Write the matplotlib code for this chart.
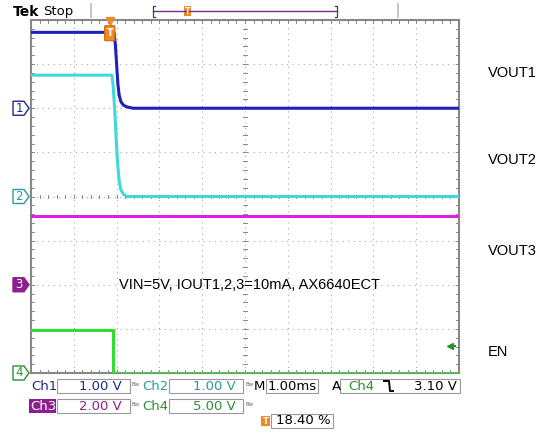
import matplotlib
matplotlib.use("Agg")
import matplotlib.pyplot as plt
from matplotlib.patches import Rectangle, Polygon, FancyBboxPatch

W, H = 542, 434

# scope settings
ch_scale = [1.0, 1.0, 2.0, 5.0]        # V/div
ch_offset = [2.0, 0.0, -2.0, -4.0]      # ground level, divisions from centre
t_per_div = 1.0                         # ms/div
trig_pct = 18.40
trig_level = 3.10

# traces (time ms, volts)
ch1_t = [-1.84, 0.10, 0.13, 0.16, 0.19, 0.22, 0.26, 0.32, 0.40, 0.55, 8.16]
ch1_v = [1.72, 1.72, 1.45, 1.0, 0.55, 0.3, 0.15, 0.07, 0.03, 0.0, 0.0]
ch2_t = [-1.84, 0.05, 0.08, 0.12, 0.15, 0.18, 0.22, 0.26, 0.32, 0.40, 8.16]
ch2_v = [2.75, 2.75, 2.5, 1.9, 1.3, 0.8, 0.35, 0.15, 0.05, 0.0, 0.0]
ch3_t = [-1.84, 8.16]
ch3_v = [3.1, 3.1]
ch4_t = [-1.84, 0.07, 0.07, 8.16]
ch4_v = [4.85, 4.85, 0.05, 0.05]

trace_colors = ["#2020c0", "#40d8d8", "#e020e0", "#30dd30"]
label_colors = ["#1c2a8a", "#2a9c9c", "#8e1e8e", "#2e8e2e"]
names = ["VOUT1", "VOUT2", "VOUT3", "EN"]

fig = plt.figure(figsize=(W / 100, H / 100), dpi=100)
fig.patch.set_facecolor("white")

x0, y0, x1, y1 = 31, 20, 459, 373
ax = fig.add_axes([x0 / W, 1 - y1 / H, (x1 - x0) / W, (y1 - y0) / H])
ax.set_xlim(-5, 5)
ax.set_ylim(-4, 4)
ax.set_xticks([])
ax.set_yticks([])
for s in ax.spines.values():
    s.set_color("#888888")
    s.set_linewidth(1.5)

# graticule
for i in range(-4, 5):
    ax.axvline(i, color="#aaaaaa", lw=0.8, ls=(0, (1, 4)))
for j in range(-3, 4):
    ax.axhline(j, color="#aaaaaa", lw=0.8, ls=(0, (1, 4)))
for k in range(-25, 26):
    x = k / 5
    ax.plot([x, x], [4, 3.93], color="#888888", lw=0.7)
    ax.plot([x, x], [-4, -3.93], color="#888888", lw=0.7)
    ax.plot([x, x], [-0.04, 0.04], color="#888888", lw=0.7)
for k in range(-20, 21):
    y = k / 5
    ax.plot([-5, -4.92], [y, y], color="#888888", lw=0.7)
    ax.plot([5, 4.92], [y, y], color="#888888", lw=0.7)
    ax.plot([-0.05, 0.05], [y, y], color="#888888", lw=0.7)


def to_x(t):
    # time relative to trigger -> screen divisions
    return [(tt + trig_pct / 10) / t_per_div - 5 for tt in t]


traces = [(ch1_t, ch1_v), (ch2_t, ch2_v), (ch3_t, ch3_v), (ch4_t, ch4_v)]
for n, (tt, vv) in enumerate(traces):
    ys = [ch_offset[n] + v / ch_scale[n] for v in vv]
    ax.plot(to_x(tt), ys, color=trace_colors[n], lw=2.2, solid_joinstyle="round", zorder=3)

# trigger marker at top
trig_x = trig_pct / 10 - 5
ax.plot([trig_x], [3.97], marker="v", color="#f08a20", ms=6, clip_on=False, zorder=5)
ax.add_patch(FancyBboxPatch((trig_x - 0.1, 3.55), 0.2, 0.3, boxstyle="round,pad=0.02",
                            fc="#f08a20", ec="#c86a10", lw=0.8, zorder=5))
ax.text(trig_x, 3.7, "T", color="white", fontsize=7, ha="center", va="center",
        fontweight="bold", zorder=6)

# trigger level arrow on right
ty = ch_offset[3] + trig_level / ch_scale[3]
ax.plot([4.78], [ty], marker="<", color="#2e8e2e", ms=5, zorder=5)
ax.plot([4.78, 4.9], [ty, ty], color="#2e8e2e", lw=1.5, zorder=5)

ax.text(0.1, -2.0, "VIN=5V, IOUT1,2,3=10mA, AX6640ECT", fontsize=10.5,
        family="Liberation Sans", ha="center", va="center", color="black")

# channel labels on the right
for n, yp in enumerate([73, 160, 251, 352]):
    fig.text(488 / W, 1 - yp / H, names[n], fontsize=10.5, family="Liberation Sans",
             ha="left", va="center", color="black")

# ground markers on the left
for n in range(4):
    yp = 196.5 - ch_offset[n] * (y1 - y0) / 8
    yf = 1 - yp / H
    pts = [(13 / W, yf + 7 / H), (24 / W, yf + 7 / H), (29 / W, yf),
           (24 / W, yf - 7 / H), (13 / W, yf - 7 / H)]
    filled = n == 2
    fig.patches.append(Polygon(pts, closed=True, transform=fig.transFigure,
                               fc=label_colors[n] if filled else "white",
                               ec=label_colors[n], lw=1.0))
    fig.text(19 / W, yf, str(n + 1), fontsize=8.5, ha="center", va="center",
             color="white" if filled else label_colors[n])

# top status bar
fig.text(13 / W, 1 - 12 / H, "Tek", fontsize=10, fontweight="bold", ha="left", va="center")
fig.text(43 / W, 1 - 12 / H, "Stop", fontsize=9.5, ha="left", va="center")
for xp in [91, 398]:
    fig.lines.append(plt.Line2D([xp / W, xp / W], [1 - 4 / H, 1 - 17 / H],
                                transform=fig.transFigure, color="#bbbbbb", lw=1.2))
bx0, bx1, by = 153, 337, 11
fig.lines.append(plt.Line2D([bx0 / W, bx1 / W], [1 - by / H] * 2, transform=fig.transFigure,
                            color="#7a2a8a", lw=1.0))
for xp, d in [(bx0, 2), (bx1, -2)]:
    fig.lines.append(plt.Line2D([(xp + d) / W, xp / W, xp / W, (xp + d) / W],
                                [1 - 6 / H, 1 - 6 / H, 1 - 17 / H, 1 - 17 / H],
                                transform=fig.transFigure, color="#444444", lw=0.9))
fig.patches.append(Rectangle((184 / W, 1 - 16 / H), 7 / W, 10 / H, transform=fig.transFigure,
                             fc="#f08a20", ec="none"))
fig.text(187.5 / W, 1 - 11.5 / H, "T", fontsize=5.5, color="white", ha="center", va="center",
         fontweight="bold")


def box(xa, xb, yc, h=14):
    fig.patches.append(Rectangle((xa / W, 1 - (yc + h / 2) / H), (xb - xa) / W, h / H,
                                 transform=fig.transFigure, fc="white", ec="#999999", lw=0.8))


def txt(xp, yp, s, c, ha="left", fs=9.5, **kw):
    fig.text(xp / W, 1 - yp / H, s, fontsize=fs, color=c, ha=ha, va="center", **kw)


r1, r2, r3 = 386, 406, 421
box(57, 130, r1); box(169, 243, r1); box(266, 318, r1); box(340, 460, r1)
box(57, 130, r2); box(169, 243, r2)
box(271, 333, r3)

txt(31, r1, "Ch1", label_colors[0])
txt(122, r1, "1.00 V", label_colors[0], ha="right")
txt(142, r1, "Ch2", label_colors[1])
txt(236, r1, "1.00 V", label_colors[1], ha="right")
txt(254, r1, "M", "black")
txt(268, r1, "1.00ms", "black")
txt(332, r1, "A", "black")
txt(348, r1, "Ch4", label_colors[3])
txt(457, r1, "3.10 V", "black", ha="right")
# falling-edge slope symbol (no font has the Tek glyph)
fig.lines.append(plt.Line2D([384 / W, 389 / W, 390 / W, 393 / W],
                            [1 - 381 / H, 1 - 381 / H, 1 - 391 / H, 1 - 391 / H],
                            transform=fig.transFigure, color="black", lw=1.4))
fig.patches.append(Rectangle((29 / W, 1 - (r2 + 7) / H), 27 / W, 14 / H,
                             transform=fig.transFigure, fc="#8e1e8e", ec="none"))
txt(30, r2, "Ch3", "white")
txt(122, r2, "2.00 V", label_colors[2], ha="right")
txt(142, r2, "Ch4", label_colors[3])
txt(236, r2, "5.00 V", label_colors[3], ha="right")
for xp, yp in [(132, r1 - 1), (245, r1 - 1), (132, r2 - 1), (245, r2 - 1)]:
    txt(xp, yp, "B\u1d21", "#666666", fs=4)

fig.patches.append(Rectangle((261 / W, 1 - (r3 + 5) / H), 9 / W, 10 / H,
                             transform=fig.transFigure, fc="#f08a20", ec="none"))
txt(265.5, r3, "T", "white", ha="center", fs=6, fontweight="bold")
txt(276, r3, "18.40 %", "black")

fig.savefig("out.png", dpi=100)
